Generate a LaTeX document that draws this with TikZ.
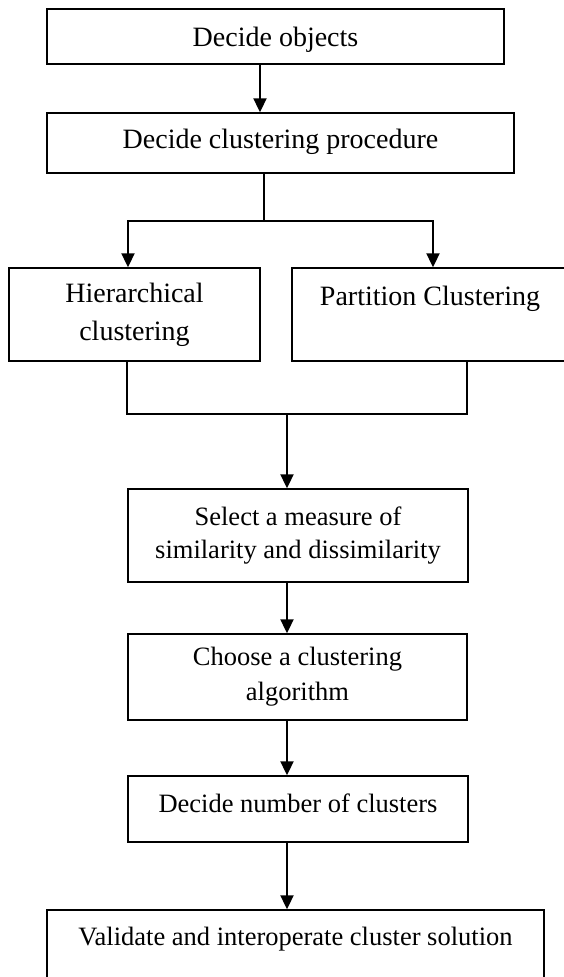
\documentclass[tikz,border=0pt]{standalone}
\usepackage{fontspec}
\setmainfont{Liberation Serif}
\usetikzlibrary{arrows.meta}

\newcommand{\topfont}{\fontsize{28}{38}\selectfont}
\newcommand{\lowfont}{\fontsize{26.5}{33}\selectfont}
\tikzset{
  box/.style={draw,line width=1.4pt,align=center,inner sep=0pt},
  upper/.style={box,font=\topfont},
  lower/.style={box,font=\lowfont},
  flow/.style={line width=2pt,-{Triangle[width=13pt,length=14pt]}},
  link/.style={line width=1.6pt},
}

\begin{document}
\begin{tikzpicture}[x=1pt,y=-1pt]
\useasboundingbox (0,0) rectangle (564,977);
\clip (0,0) rectangle (564,977);

% boxes
\node[upper,minimum width=457pt,minimum height=55pt,text height=19pt,text depth=0pt] (obj) at (275.5,36.5) {Decide objects};
\node[upper,minimum width=467pt,minimum height=60pt,text height=19pt,text depth=9pt] (proc) at (280.5,143) {Decide clustering procedure};
\node[upper,minimum width=251pt,minimum height=93pt] (hier) at (134.5,314.5) {Hierarchical\\ clustering};
\node[upper,minimum width=276pt,minimum height=93pt,text height=19pt,text depth=38pt] (part) at (430,314.5) {Partition Clustering};
\node[lower,minimum width=340pt,minimum height=93pt] (sel) at (298,535.5) {Select a measure of\\ similarity and dissimilarity};
\node[lower,font=\fontsize{26.5}{35}\selectfont,minimum width=339pt,minimum height=86pt] (algo) at (297.5,677) {Choose a clustering\\ algorithm};
\node[lower,minimum width=340pt,minimum height=66pt,text height=19pt,text depth=13pt] (num) at (298,809) {Decide number of clusters};
\node[lower,minimum width=497pt,minimum height=100pt,text height=19pt,text depth=49pt] (valid) at (295.5,960) {Validate and interoperate cluster solution};

% branch points
\coordinate (c1) at (260,0);
\coordinate (sp) at (264,221);
\coordinate (spl) at (128,221);
\coordinate (spr) at (433,221);
\coordinate (ml) at (127,414);
\coordinate (mr) at (467,414);
\coordinate (mg) at (287,414);

% connectors
\draw[flow] (obj.south -| c1) -- (proc.north -| c1);
\draw[link] (proc.south -| sp) -- (sp);
\draw[flow] (sp) -| (hier.north -| spl);
\draw[flow] (sp) -| (part.north -| spr);
\draw[link] (hier.south -| ml) |- (mr) -- (part.south -| mr);
\draw[flow] (mg) -- (sel.north -| mg);
\draw[flow] (sel.south -| mg) -- (algo.north -| mg);
\draw[flow] (algo.south -| mg) -- (num.north -| mg);
\draw[flow] (num.south -| mg) -- (valid.north -| mg);
\end{tikzpicture}
\end{document}
